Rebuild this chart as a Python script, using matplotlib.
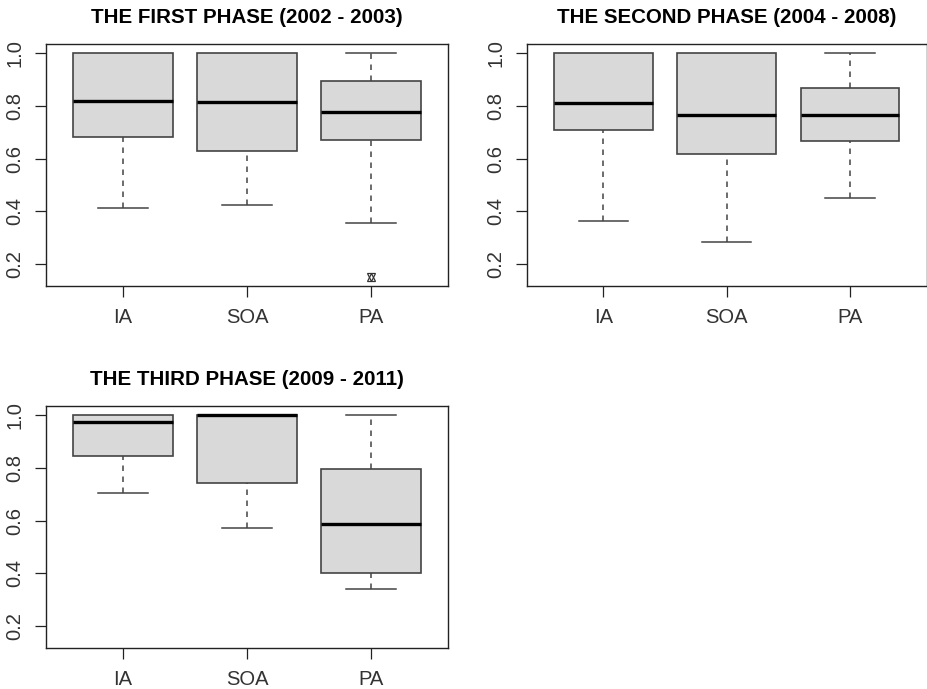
import numpy as np
import matplotlib.pyplot as plt

plt.rcParams['font.family'] = ['Liberation Sans', 'DejaVu Sans']

groups = ["IA", "SOA", "PA"]
titles = ["THE FIRST PHASE (2002 - 2003)",
          "THE SECOND PHASE (2004 - 2008)",
          "THE THIRD PHASE (2009 - 2011)"]

# five-number summaries: low whisker, q1, median, q3, high whisker
phase1 = [[0.415, 0.682, 0.819, 1.000, 1.000],
          [0.424, 0.628, 0.813, 1.000, 1.000],
          [0.358, 0.671, 0.775, 0.895, 1.000]]
phase2 = [[0.363, 0.709, 0.809, 1.000, 1.000],
          [0.286, 0.618, 0.765, 1.000, 1.000],
          [0.451, 0.666, 0.766, 0.866, 1.000]]
phase3 = [[0.706, 0.844, 0.975, 1.000, 1.000],
          [0.572, 0.744, 0.999, 1.000, 1.000],
          [0.341, 0.401, 0.589, 0.796, 1.000]]
# outliers per phase and group
outliers1 = [[], [], [0.152]]
outliers2 = [[], [], []]
outliers3 = [[], [], []]

yticks = [0.2, 0.4, 0.6, 0.8, 1.0]
ylim = (0.118, 1.034)

W, H = 927, 689
fig = plt.figure(figsize=(W / 100, H / 100), dpi=100)

# axes rectangles in pixels: left, top, right, bottom
rects = [(46, 44, 448, 286), (527, 44, 926.5, 286), (46, 406, 448, 648)]


def draw_panel(ax, stats, outl, title):
    edge = "#444444"
    for i, (lo, q1, med, q3, hi) in enumerate(stats):
        x = i + 1
        ax.add_patch(plt.Rectangle((x - 0.4, q1), 0.8, q3 - q1, facecolor="#d9d9d9",
                                   edgecolor=edge, lw=1.2, zorder=2))
        ax.plot([x - 0.4, x + 0.4], [med, med], color="black", lw=2.4, zorder=3,
                solid_capstyle="butt")
        if lo < q1:
            ax.plot([x, x], [lo, q1], color=edge, lw=1.1, dashes=(3.6, 3.6), zorder=1)
            ax.plot([x - 0.2, x + 0.2], [lo, lo], color=edge, lw=1.1, zorder=1)
        if hi > q3:
            ax.plot([x, x], [q3, hi], color=edge, lw=1.1, dashes=(3.6, 3.6), zorder=1)
            ax.plot([x - 0.2, x + 0.2], [hi, hi], color=edge, lw=1.1, zorder=1)
        for v in outl[i]:
            ax.plot([x], [v], marker="^", ms=5.5, mfc="none", mec="#333333", mew=0.9)
            ax.plot([x], [v], marker="v", ms=5.5, mfc="none", mec="#333333", mew=0.9)
    ax.set_xlim(0.38, 3.62)
    ax.set_ylim(*ylim)
    ax.set_xticks([1, 2, 3])
    ax.set_xticklabels(groups)
    ax.set_yticks(yticks)
    ax.set_yticklabels([f"{t:.1f}" for t in yticks], rotation=90, va="center")
    ax.tick_params(axis="both", length=7.7, width=0.9, labelsize=14.5,
                   labelcolor="#333333", color="#222222")
    ax.tick_params(axis="x", pad=8)
    ax.tick_params(axis="y", pad=8)
    for s in ax.spines.values():
        s.set_linewidth(1.0)
        s.set_color("#222222")
    ax.set_title(title, fontsize=14.8, fontweight="bold", pad=15)


for (l, t, r, b), stats, outl, title in zip(rects, [phase1, phase2, phase3],
                                            [outliers1, outliers2, outliers3], titles):
    ax = fig.add_axes([l / W, 1 - b / H, (r - l) / W, (b - t) / H])
    draw_panel(ax, stats, outl, title)

fig.savefig("out.png", dpi=100)
